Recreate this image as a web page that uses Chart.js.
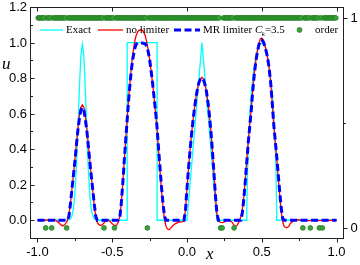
<!DOCTYPE html>
<html><head><meta charset="utf-8">
<script src="https://cdn.jsdelivr.net/npm/chart.js@4/dist/chart.umd.min.js"></script>
<style>html,body{margin:0;padding:0;background:#fff}#c{display:block}</style>
</head><body>
<canvas id="c" width="360" height="265"></canvas>
<script>
// ---- tick labels ----
const xTicks = [-1, -0.5, 0, 0.5, 1];
const xTickLabels = ['-1.0', '-0.5', '0.0', '0.5', '1.0'];
const xMinorTicks = [-0.75, -0.25, 0.25, 0.75];
const yTicks = [0, 0.2, 0.4, 0.6, 0.8, 1.0, 1.2];
const yTickLabels = ['0.0', '0.2', '0.4', '0.6', '0.8', '1.0', '1.2'];
const yMinorTicks = [-0.1, 0.1, 0.3, 0.5, 0.7, 0.9, 1.1];
const y2Ticks = [0, 1];
const y2TickLabels = ['0', '1'];
const y2MinorTicks = [0.5];

// ---- series: [x, u] ----
const exact = [[-1,0],[-0.8,0],[-0.78,0.007],[-0.77,0.023],[-0.76,0.063],[-0.75,0.146],[-0.74,0.29],[-0.73,0.5],[-0.72,0.735],[-0.71,0.925],[-0.7,0.99],
 [-0.69,0.925],[-0.68,0.735],[-0.67,0.5],[-0.66,0.29],[-0.65,0.146],[-0.64,0.063],[-0.63,0.023],[-0.62,0.007],[-0.6,0],
 [-0.4,0],[-0.4,1],[-0.2,1],[-0.2,0],[0,0],[0.1,1],[0.2,0],[0.4,0],[0.4,0.05],[0.405,0.28],[0.41,0.43],[0.42,0.6],[0.43,0.714],[0.44,0.8],
 [0.45,0.866],[0.46,0.917],[0.47,0.954],[0.48,0.98],[0.49,0.995],[0.5,0.998],[0.51,0.995],[0.52,0.98],[0.53,0.954],[0.54,0.917],[0.55,0.866],
 [0.56,0.8],[0.57,0.714],[0.58,0.6],[0.59,0.43],[0.595,0.28],[0.6,0.05],[0.6,0],[1,0]];

const noLimiter = [[-1,0],[-0.95,0],[-0.92,0.002],[-0.9,0.003],[-0.88,0],[-0.86,-0.012],[-0.845,-0.025],[-0.83,-0.032],[-0.815,-0.022],[-0.8,-0.003],
 [-0.79,0.03],[-0.78,0.09],[-0.77,0.17],[-0.76,0.25],[-0.75,0.335],[-0.74,0.43],[-0.73,0.515],[-0.72,0.585],[-0.71,0.635],[-0.7,0.65],
 [-0.69,0.635],[-0.68,0.585],[-0.67,0.515],[-0.66,0.43],[-0.65,0.335],[-0.64,0.25],[-0.63,0.16],[-0.62,0.08],[-0.61,0.02],[-0.6,-0.012],
 [-0.59,-0.025],[-0.575,-0.03],[-0.56,-0.02],[-0.545,-0.005],[-0.53,0.002],[-0.515,-0.006],[-0.5,-0.02],[-0.485,-0.03],[-0.47,-0.028],[-0.46,-0.01],
 [-0.45,0.02],[-0.44,0.09],[-0.43,0.2],[-0.42,0.33],[-0.41,0.45],[-0.4,0.57],[-0.39,0.69],[-0.38,0.79],[-0.37,0.88],[-0.36,0.95],[-0.35,1.005],
 [-0.34,1.04],[-0.33,1.06],[-0.32,1.07],[-0.31,1.072],[-0.3,1.07],[-0.29,1.06],[-0.28,1.04],[-0.27,1.005],[-0.26,0.96],[-0.25,0.905],[-0.24,0.84],
 [-0.23,0.77],[-0.22,0.69],[-0.21,0.6],[-0.2,0.51],[-0.19,0.39],[-0.18,0.27],[-0.17,0.16],[-0.16,0.07],[-0.15,0],[-0.14,-0.035],[-0.13,-0.05],
 [-0.12,-0.054],[-0.11,-0.046],[-0.1,-0.035],[-0.08,-0.02],[-0.05,-0.01],[-0.03,-0.008],[-0.02,-0.004],
 [-0.01,0.06],[0,0.18],[0.01,0.29],[0.02,0.39],[0.03,0.48],[0.04,0.56],[0.05,0.63],[0.06,0.69],[0.07,0.74],[0.08,0.775],[0.09,0.795],[0.1,0.805],
 [0.11,0.795],[0.12,0.765],[0.13,0.725],[0.14,0.665],[0.15,0.59],[0.16,0.5],[0.17,0.39],[0.18,0.27],[0.19,0.14],[0.2,0.035],[0.21,-0.004],
 [0.225,-0.012],[0.24,-0.013],[0.26,-0.005],[0.28,0],[0.3,-0.01],[0.32,-0.035],[0.335,-0.03],[0.35,-0.005],[0.36,0.02],[0.37,0.06],
 [0.38,0.13],[0.39,0.23],[0.4,0.34],[0.41,0.45],[0.42,0.54],[0.43,0.63],[0.44,0.735],[0.45,0.825],[0.46,0.895],[0.47,0.95],[0.48,0.99],
 [0.49,1.02],[0.5,1.025],[0.51,1.015],[0.52,0.99],[0.53,0.955],[0.54,0.91],[0.55,0.85],[0.56,0.77],[0.57,0.66],[0.58,0.54],[0.59,0.44],
 [0.6,0.35],[0.61,0.24],[0.62,0.14],[0.63,0.05],[0.64,-0.01],[0.65,-0.035],[0.665,-0.042],[0.68,-0.035],[0.69,-0.02],[0.71,-0.005],
 [0.735,0.004],[0.76,0],[0.8,-0.002],[1,0]];

const mrLimiter = [[-1,0],[-0.9,0],[-0.8,0],[-0.79,0.02],[-0.78,0.09],[-0.77,0.17],[-0.76,0.25],[-0.75,0.33],[-0.74,0.42],[-0.73,0.505],[-0.72,0.57],
 [-0.71,0.62],[-0.7,0.635],[-0.69,0.62],[-0.68,0.57],[-0.67,0.505],[-0.66,0.42],[-0.65,0.33],[-0.64,0.25],[-0.63,0.17],[-0.62,0.09],[-0.61,0.02],
 [-0.6,0],[-0.46,0],[-0.45,0.01],[-0.44,0.09],[-0.43,0.2],[-0.42,0.33],[-0.41,0.45],[-0.4,0.566],[-0.39,0.68],[-0.38,0.78],[-0.37,0.86],
 [-0.36,0.92],[-0.35,0.965],[-0.34,0.99],[-0.33,0.997],[-0.3,0.997],[-0.28,0.993],[-0.27,0.98],[-0.26,0.95],[-0.25,0.905],[-0.24,0.84],
 [-0.23,0.77],[-0.22,0.69],[-0.21,0.61],[-0.2,0.52],[-0.19,0.4],[-0.18,0.29],[-0.17,0.18],[-0.16,0.09],[-0.15,0.02],[-0.14,0],[-0.02,0],
 [-0.01,0.06],[0,0.18],[0.01,0.29],[0.02,0.39],[0.03,0.48],[0.04,0.56],[0.05,0.63],[0.06,0.69],[0.07,0.74],[0.08,0.775],[0.09,0.795],[0.1,0.8],
 [0.11,0.79],[0.12,0.765],[0.13,0.725],[0.14,0.665],[0.15,0.59],[0.16,0.5],[0.17,0.39],[0.18,0.27],[0.19,0.14],[0.2,0.04],[0.21,0],
 [0.36,0],[0.37,0.04],[0.38,0.12],[0.39,0.22],[0.4,0.33],[0.41,0.44],[0.42,0.53],[0.43,0.62],[0.44,0.73],[0.45,0.82],[0.46,0.89],[0.47,0.945],
 [0.48,0.985],[0.49,1.01],[0.5,1.015],[0.51,1.005],[0.52,0.98],[0.53,0.95],[0.54,0.91],[0.55,0.85],[0.56,0.77],[0.57,0.66],[0.58,0.54],
 [0.59,0.45],[0.6,0.36],[0.61,0.26],[0.62,0.16],[0.63,0.07],[0.64,0.01],[0.65,0],[1,0]];

// order indicator: 200 cells on [-1,1]; listed cells have order 0, all others 1
const orderCellCount = 200;
const orderZeroCells = [-0.945,-0.905,-0.805,-0.555,-0.485,-0.265,0.225,0.235,0.315,0.775,0.825,0.885,0.905];

const toPts = arr => arr.map(p => ({x: p[0], y: p[1]}));
const orderPts = [];
for (let i = 0; i < orderCellCount; i++) {
  const xc = Math.round((-1 + (i + 0.5) * 2 / orderCellCount) * 1000) / 1000;
  const isZero = orderZeroCells.some(z => Math.abs(z - xc) < 1e-6);
  orderPts.push({x: xc, y: isZero ? 0 : 1});
}

const SANS = '"Liberation Sans", Arial, sans-serif';
const SERIF = '"Liberation Serif", "Times New Roman", serif';
const DASH = [7, 3.5];

const decor = {
  id: 'decor',
  afterDatasetsDraw(chart) {
    const {ctx, chartArea: a, scales} = chart;
    const sx = scales.x, sy = scales.y, sy2 = scales.y2;
    ctx.save();
    ctx.strokeStyle = '#222';
    ctx.lineWidth = 1;
    const L = Math.round(a.left) + 0.5, R = Math.round(a.right) - 0.5, T = Math.round(a.top) + 0.5, B = Math.round(a.bottom) + 0.5;
    ctx.strokeRect(L, T, R - L, B - T);
    ctx.beginPath();
    xTicks.forEach(v => { const p = Math.round(sx.getPixelForValue(v)) + 0.5; ctx.moveTo(p, B); ctx.lineTo(p, B + 4); ctx.moveTo(p, T); ctx.lineTo(p, T + 4); });
    xMinorTicks.forEach(v => { const p = Math.round(sx.getPixelForValue(v)) + 0.5; ctx.moveTo(p, B); ctx.lineTo(p, B + 2.5); });
    yTicks.forEach(v => { const p = Math.round(sy.getPixelForValue(v)) + 0.5; ctx.moveTo(L, p); ctx.lineTo(L + 4, p); });
    yMinorTicks.forEach(v => { const p = Math.round(sy.getPixelForValue(v)) + 0.5; ctx.moveTo(L, p); ctx.lineTo(L + 2.5, p); });
    y2Ticks.forEach(v => { const p = Math.round(sy2.getPixelForValue(v)) + 0.5; ctx.moveTo(R, p); ctx.lineTo(R + 4, p); });
    y2MinorTicks.forEach(v => { const p = Math.round(sy2.getPixelForValue(v)) + 0.5; ctx.moveTo(R, p); ctx.lineTo(R + 2.5, p); });
    ctx.stroke();

    // tick labels
    ctx.fillStyle = '#000';
    ctx.font = '13px ' + SANS;
    ctx.textBaseline = 'middle';
    ctx.textAlign = 'right';
    yTicks.forEach((v, i) => ctx.fillText(yTickLabels[i], 27, sy.getPixelForValue(v) + 0.5));
    ctx.textAlign = 'left';
    y2Ticks.forEach((v, i) => ctx.fillText(y2TickLabels[i], 350.5, sy2.getPixelForValue(v) + 0.5));
    ctx.textAlign = 'center';
    xTicks.forEach((v, i) => ctx.fillText(xTickLabels[i], sx.getPixelForValue(v), 252.5));

    // axis titles
    ctx.font = 'italic 17px ' + SERIF;
    ctx.textAlign = 'left';
    ctx.fillText('u', 2, 65);
    ctx.fillText('x', 206, 255);

    // legend
    const ly = 30;
    ctx.font = '11px ' + SERIF;
    ctx.lineWidth = 1.3;
    ctx.strokeStyle = '#00ffff';
    ctx.beginPath(); ctx.moveTo(40, ly); ctx.lineTo(63, ly); ctx.stroke();
    ctx.fillText('Exact', 66, ly + 0.5);
    ctx.strokeStyle = '#ff0000';
    ctx.beginPath(); ctx.moveTo(98, ly); ctx.lineTo(123, ly); ctx.stroke();
    ctx.fillText('no limiter', 126, ly + 0.5);
    ctx.strokeStyle = '#0000ff'; ctx.lineWidth = 3; ctx.setLineDash(DASH);
    ctx.beginPath(); ctx.moveTo(174, ly); ctx.lineTo(200, ly); ctx.stroke();
    ctx.setLineDash([]);
    ctx.fillText('MR limiter ', 203, ly + 0.5);
    let w = ctx.measureText('MR limiter ').width;
    ctx.font = 'italic 11px ' + SERIF;
    ctx.fillText('C', 203 + w, ly + 0.5);
    const wc = ctx.measureText('C').width;
    ctx.font = 'italic 7px ' + SERIF;
    ctx.fillText('k', 203 + w + wc - 0.5, ly + 4);
    const wk = ctx.measureText('k').width;
    ctx.font = '11px ' + SERIF;
    ctx.fillText('=3.5', 203 + w + wc + wk - 0.5, ly + 0.5);
    ctx.fillStyle = '#3aa53a'; ctx.strokeStyle = '#1e7b1e'; ctx.lineWidth = 0.8;
    ctx.beginPath(); ctx.arc(299.5, ly, 2.4, 0, Math.PI * 2); ctx.fill(); ctx.stroke();
    ctx.fillStyle = '#000';
    ctx.fillText('order', 315, ly + 0.5);
    ctx.restore();
  }
};

new Chart(document.getElementById('c').getContext('2d'), {
  type: 'scatter',
  data: { datasets: [
    { label: 'order', data: orderPts, yAxisID: 'y2', showLine: false, pointRadius: 2.4, pointBackgroundColor: '#3aa53a', pointBorderColor: '#1e7b1e', pointBorderWidth: 0.8, order: 1 },
    { label: 'MR limiter Ck=3.5', data: toPts(mrLimiter), yAxisID: 'y', showLine: true, borderColor: '#0000ff', borderWidth: 3, borderDash: DASH, pointRadius: 0, tension: 0, order: 2 },
    { label: 'no limiter', data: toPts(noLimiter), yAxisID: 'y', showLine: true, borderColor: '#ff0000', borderWidth: 1.3, pointRadius: 0, tension: 0, order: 3 },
    { label: 'Exact', data: toPts(exact), yAxisID: 'y', showLine: true, borderColor: '#00ffff', borderWidth: 1.3, pointRadius: 0, tension: 0, order: 4 }
  ]},
  options: {
    responsive: false, animation: false, events: [],
    layout: { padding: { top: 7, left: 0, right: 0, bottom: 0 } },
    plugins: { legend: { display: false }, tooltip: { enabled: false } },
    scales: {
      x: { type: 'linear', position: 'bottom', min: -1.05, max: 1.05,
        afterBuildTicks: s => { s.ticks = xTicks.map(v => ({value: v})); },
        afterFit: s => { s.height = 27; },
        grid: { display: false }, border: { display: false }, ticks: { display: false } },
      y: { type: 'linear', position: 'left', min: -0.1, max: 1.2,
        afterBuildTicks: s => { s.ticks = yTicks.map(v => ({value: v})); },
        afterFit: s => { s.width = 30; },
        grid: { display: false }, border: { display: false }, ticks: { display: false } },
      y2: { type: 'linear', position: 'right', min: -0.048, max: 1.052,
        afterBuildTicks: s => { s.ticks = y2Ticks.map(v => ({value: v})); },
        afterFit: s => { s.width = 16; },
        grid: { display: false }, border: { display: false }, ticks: { display: false } }
    }
  },
  plugins: [decor]
});
</script>
</body></html>
